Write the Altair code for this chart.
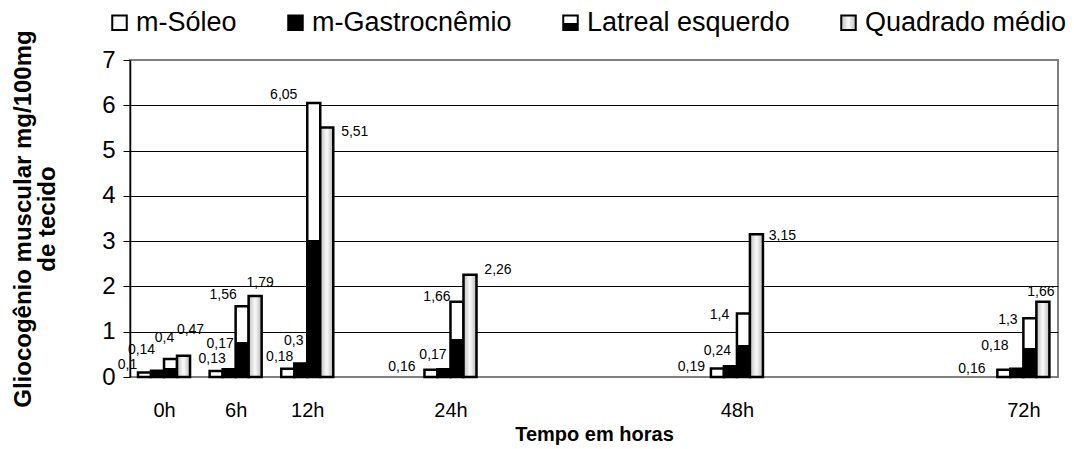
import altair as alt
import pandas as pd

hours = [0, 6, 12, 24, 48, 72]
series = ["m-Sóleo", "m-Gastrocnêmio", "Latreal esquerdo", "Quadrado médio"]
soleo = [0.1, 0.13, 0.18, 0.16, 0.19, 0.16]
gastro = [0.14, 0.17, 0.3, 0.17, 0.24, 0.18]
latreal = [0.4, 1.56, 6.05, 1.66, 1.4, 1.3]
quadrado = [0.47, 1.79, 5.51, 2.26, 3.15, 1.66]
y_ticks = [0, 1, 2, 3, 4, 5, 6, 7]

# label nudges in pixels (dx, dy) from bar top centre, one list per series
nudge_soleo = [(-17, -7), (-4, -12), (-8, -12), (-29, -3), (-26, -1), (-32, -1)]
nudge_gastro = [(-16, -21), (-9, -25), (-7, -22), (-11, -14), (-13, -15), (-22, -23)]
nudge_latreal = [(-6, -21), (-19, -11), (-30, -8), (-20, -5), (-24, 1), (-22, 2)]
nudge_quadrado = [(7, -26), (5, -13), (28, 5), (28, -5), (26, 2), (-2, -10)]

W, H = 928, 317
X_DOMAIN = [-2.85, 74.9]
Y_DOMAIN = [0, 7]
PXH = W / (X_DOMAIN[1] - X_DOMAIN[0])
PXV = H / (Y_DOMAIN[1] - Y_DOMAIN[0])

values_by_series = [soleo, gastro, latreal, quadrado]
nudges = [nudge_soleo, nudge_gastro, nudge_latreal, nudge_quadrado]
rows = []
for i, (name, vals, nd) in enumerate(zip(series, values_by_series, nudges)):
    for h, v, (dx, dy) in zip(hours, vals, nd):
        rows.append({"hour": h, "series": name, "idx": i, "value": v,
                     "label": str(v).replace(".", ","), "ndx": dx, "ndy": dy})
df = pd.DataFrame(rows)

FONT = "Liberation Sans"
BW = 1.09  # bar width in hours

half = ("{gradient:'linear',x1:0,y1:0,x2:0,y2:1,stops:["
        "{offset:0,color:'#ffffff'},{offset:0.5,color:'#ffffff'},"
        "{offset:0.5,color:'#000000'},{offset:1,color:'#000000'}]}")
stripes = ("{gradient:'linear',x1:0,y1:0,x2:1,y2:0,stops:["
           "{offset:0,color:'#c4c4c4'},{offset:0.25,color:'#dcdcdc'},"
           "{offset:0.45,color:'#f6f6f6'},{offset:0.55,color:'#f6f6f6'},"
           "{offset:0.75,color:'#d8d8d8'},{offset:1,color:'#bcbcbc'}]}")

fill_scale = alt.Scale(domain=series,
                       range=["#ffffff", "#000000", alt.ExprRef(half), alt.ExprRef(stripes)])

xscale = alt.Scale(domain=X_DOMAIN, nice=False, zero=False)
yscale = alt.Scale(domain=Y_DOMAIN, nice=False, zero=True)

base = alt.Chart(df).transform_calculate(
    x0=f"datum.hour + (datum.idx - 2) * {BW}",
    x1=f"datum.hour + (datum.idx - 1) * {BW}",
    lx=f"datum.hour + (datum.idx - 1.5) * {BW} + datum.ndx / {PXH}",
    ly=f"datum.value - datum.ndy / {PXV}",
)

bars = base.mark_bar(stroke="black", strokeWidth=2.5).encode(
    x=alt.X("x0:Q", scale=xscale,
            axis=alt.Axis(values=hours, labelExpr="datum.value + 'h'",
                          title="Tempo em horas", grid=False, ticks=False,
                          domain=False, labelFontSize=20, labelFont=FONT,
                          labelColor="black", labelPadding=23,
                          titleFont=FONT, titleFontSize=20, titleFontWeight="bold",
                          titleColor="black", titlePadding=4)),
    x2="x1:Q",
    y=alt.Y("value:Q", scale=yscale,
            axis=alt.Axis(values=y_ticks, title=["Gliocogênio muscular mg/100mg", "de tecido"],
                          labelFontSize=24, labelFont=FONT, labelColor="black",
                          labelPadding=8, tickSize=7, tickColor="black",
                          domainColor="black", domainWidth=1.5,
                          gridColor={"condition": {"test": "datum.value === 0 || datum.value === 7",
                                                   "value": "#808080"}, "value": "black"},
                          gridWidth=1,
                          titleFont=FONT, titleFontSize=24, titleFontWeight="bold",
                          titleColor="black", titlePadding=42, titleLineHeight=24)),
    y2=alt.datum(0),
    fill=alt.Fill("series:N", scale=fill_scale, sort=series,
                  legend=alt.Legend(title=None, orient="none", legendX=-24, legendY=-51,
                                    direction="horizontal", labelFontSize=27, labelFont=FONT,
                                    labelColor="black", symbolType="square", symbolSize=210,
                                    symbolStrokeColor="black", symbolStrokeWidth=2,
                                    columnPadding=45, labelOffset=3, labelLimit=400)),
)

labels = base.mark_text(font=FONT, fontSize=14, color="black",
                        align="center", baseline="middle").encode(
    x=alt.X("lx:Q", scale=xscale),
    y=alt.Y("ly:Q", scale=yscale),
    text="label:N",
)

chart = alt.layer(bars, labels).properties(
    width=W, height=H,
    autosize=alt.AutoSizeParams(type="none"),
    padding={"left": 122, "top": 52, "right": 8, "bottom": 72},
).configure_view(stroke="#808080", strokeWidth=2)

chart.save("out.html", embed_options={"renderer": "svg", "actions": False})
